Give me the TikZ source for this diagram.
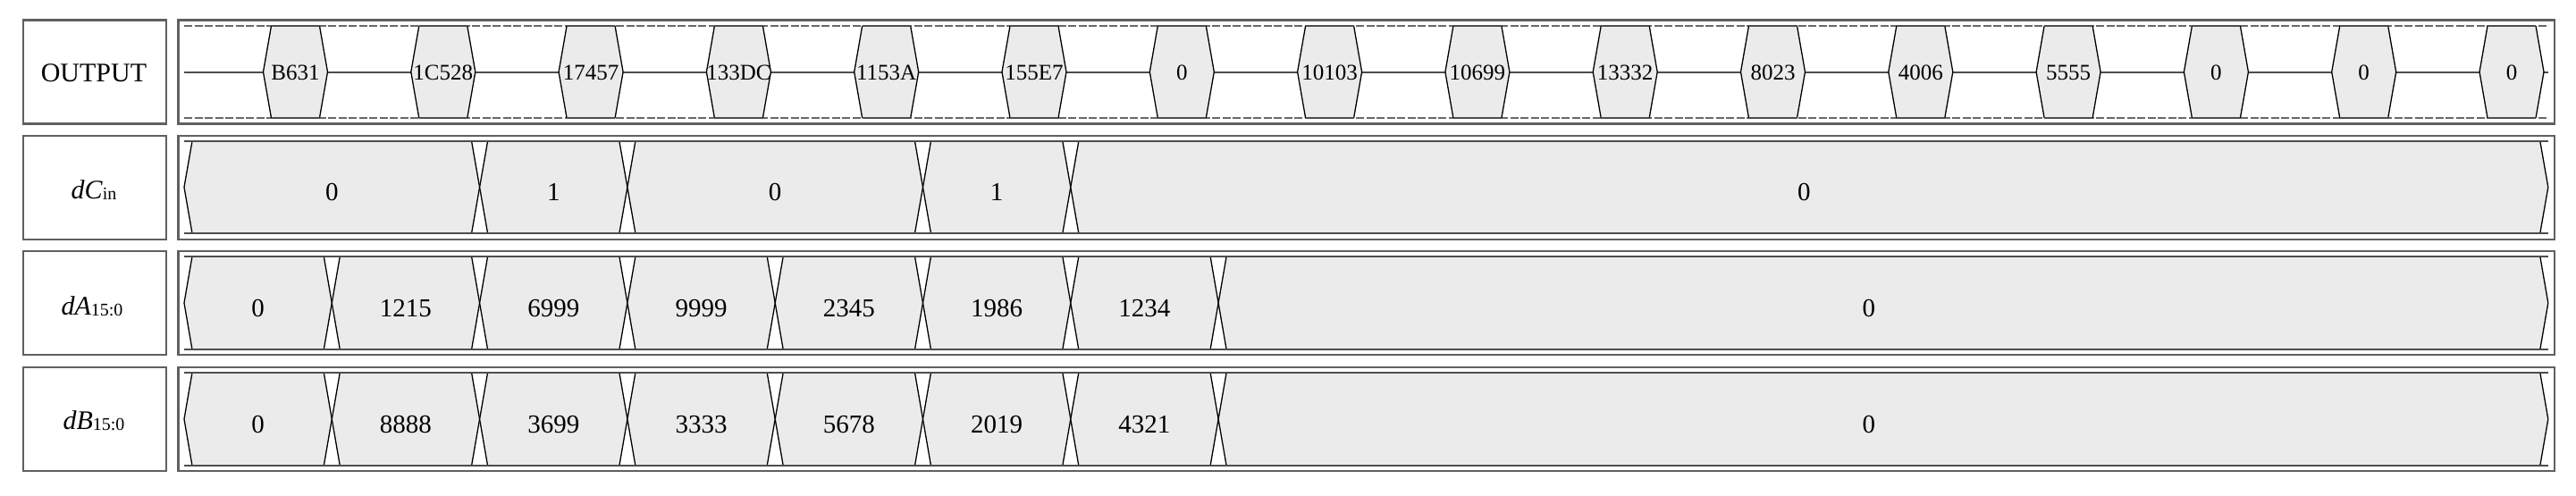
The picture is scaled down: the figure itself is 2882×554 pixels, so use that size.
\documentclass[tikz,border=0pt]{standalone}
\usepackage{fontspec}
\setmainfont{Liberation Serif}
\usepackage{graphicx}
\definecolor{fillg}{HTML}{EBEBEB}
\definecolor{lineg}{HTML}{4D4D4D}
\definecolor{boxg}{HTML}{606060}
\newcommand{\hx}[1]{{\fontsize{25}{25}\selectfont #1}}
\newcommand{\vx}[1]{{\fontsize{29}{29}\selectfont #1}}
\newcommand{\lx}[1]{{\fontsize{30}{30}\selectfont #1}}
\newcommand{\sbx}[1]{\raisebox{-1pt}{\fontsize{20}{20}\selectfont #1}}
\newcommand{\busrow}[4]{%
  \pgfmathsetmacro\ym{(#1+#2)/2}
  \foreach \a/\b/\v/\dx [count=\i] in {#4} {
    \pgfmathsetmacro\xa{206+165.3*\a}
    \pgfmathsetmacro\xb{206+165.3*\b}
    \fill[fillg] (\xa,\ym) -- (\xa+9,#1) -- (\xb-9,#1) -- (\xb,\ym) -- (\xb-9,#2) -- (\xa+9,#2) -- cycle;
    \draw[edgest] (\xa+9,#1) -- (\xa,\ym) -- (\xa+9,#2) (\xb-9,#1) -- (\xb,\ym) -- (\xb-9,#2);
    \node[val] (#3\i) at ({(\xa+\xb)/2+\dx},\ym+15) {\vx{\v}};
  }
  \draw[hline] (206,#1) -- (2851,#1) (206,#2) -- (2851,#2);
}
\begin{document}
\begin{tikzpicture}[x=1pt,y=-1pt,
  boxst/.style={draw=boxg, line width=2.2pt},
  edgest/.style={draw=black, line width=1.3pt},
  hline/.style={draw=lineg, line width=2pt},
  dashline/.style={draw=lineg!85, line width=1.8pt, dash pattern=on 9pt off 2.5pt},
  val/.style={anchor=base, inner sep=0pt},
  lab/.style={anchor=base, inner sep=0pt}]
\useasboundingbox (0,0) rectangle (2882,554);
\fill[white] (0,0) rectangle (2882,554);
% boxes
\foreach \t/\bt in {22.5/138.5,152/268,281/397,411/527} {
  \draw[boxst] (26,\t) rectangle (186,\bt);
  \draw[boxst] (199.5,\t) rectangle (2858,\bt);
}
% labels
\node[lab] (lout) at (105,91.7) {\lx{OUTPUT}};
\node[lab] (lcin) at (105,222) {\lx{\textit{dC}\sbx{in}}};
\node[lab] (la) at (103,352) {\lx{\textit{dA}\sbx{15:0}}};
\node[lab] (lb) at (105,480) {\lx{\textit{dB}\sbx{15:0}}};
% OUTPUT row
\draw[dashline] (206,29) -- (2851,29);
\draw[dashline] (206,132) -- (2851,132);
\draw[hline] (206,80.5) -- (2851,80.5);
\foreach \v [count=\i from 0] in {B631,1C528,17457,133DC,1153A,155E7,0,10103,10699,13332,8023,4006,5555,0,0,0} {
  \pgfmathsetmacro\c{330.5+165.3*\i}
  \fill[fillg] (\c-36,80.5) -- (\c-27,29) -- (\c+27,29) -- (\c+36,80.5) -- (\c+27,132) -- (\c-27,132) -- cycle;
  \draw[edgest] (\c-27,29) -- (\c-36,80.5) -- (\c-27,132) (\c+27,29) -- (\c+36,80.5) -- (\c+27,132);
  \draw[hline] (\c-27,29) -- (\c+27,29) (\c-27,132) -- (\c+27,132);
  \node[val] (out\i) at (\c,89.5) {\hx{\v}};
}
% bus rows
\busrow{158}{261}{cin}{0/2/0/0,2/3/1/0,3/5/0/0,5/6/1/0,6/16/0/-6}
\busrow{287}{391}{da}{0/1/0/0,1/2/1215/0,2/3/6999/0,3/4/9999/0,4/5/2345/0,5/6/1986/0,6/7/1234/0,7/16/0/-16}
\busrow{417}{521}{db}{0/1/0/0,1/2/8888/0,2/3/3699/0,3/4/3333/0,4/5/5678/0,5/6/2019/0,6/7/4321/0,7/16/0/-16}
\end{tikzpicture}
\end{document}
